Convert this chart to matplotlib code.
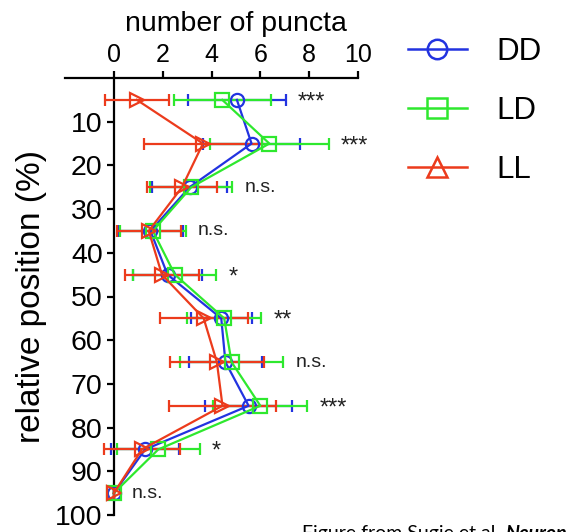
import matplotlib
matplotlib.use("Agg")
import matplotlib.pyplot as plt
from matplotlib.lines import Line2D

plt.rcParams['font.family'] = ['Liberation Sans', 'DejaVu Sans']

# relative position along the neurite (%) and puncta counts (mean, SD)
positions = [5, 15, 25, 35, 45, 55, 65, 75, 85, 95]
dd_mean = [5.04, 5.64, 3.10, 1.50, 2.20, 4.40, 4.57, 5.52, 1.28, 0.0]
dd_sd = [2.00, 1.97, 1.55, 1.32, 1.40, 1.25, 1.50, 1.78, 1.40, 0.0]
ld_mean = [4.44, 6.37, 3.17, 1.60, 2.50, 4.52, 4.82, 6.00, 1.82, 0.0]
ld_sd = [1.98, 2.44, 1.69, 1.34, 1.70, 1.52, 2.12, 1.93, 1.70, 0.0]
ll_mean = [0.94, 3.65, 2.79, 1.43, 1.97, 3.68, 4.22, 4.45, 1.15, 0.0]
ll_sd = [1.31, 2.40, 1.45, 1.32, 1.52, 1.80, 1.92, 2.18, 1.56, 0.0]
significance = ["***", "***", "n.s.", "n.s.", "*", "**", "n.s.", "***", "*", "n.s."]

x_ticks = [0, 2, 4, 6, 8, 10]
y_ticks = [10, 20, 30, 40, 50, 60, 70, 80, 90, 100]

BLUE = "#2233e0"
GREEN = "#2ee82e"
RED = "#ec3b1c"

series = [
    ("DD", dd_mean, dd_sd, BLUE, "o", "o"),
    ("LD", ld_mean, ld_sd, GREEN, "s", "s"),
    ("LL", ll_mean, ll_sd, RED, ">", "^"),
]

fig = plt.figure(figsize=(5.70, 5.32), dpi=100)
ax_h = 437 / 532
ax = fig.add_axes([65 / 570, 1 - 515 / 532, 293 / 570, ax_h])

for name, mean, sd, color, marker, _ in series:
    ax.errorbar(mean, positions, xerr=sd, color=color, lw=1.6,
                marker=marker, markersize=9.5, mfc="none", mec=color, mew=1.6,
                ecolor=color, elinewidth=1.6, capsize=4, capthick=1.6,
                clip_on=False, zorder=3)

# significance labels to the right of the widest error bar in each row
for i, label in enumerate(significance):
    hi = max(dd_mean[i] + dd_sd[i], ld_mean[i] + ld_sd[i], ll_mean[i] + ll_sd[i], 0.25)
    ax.text(hi + 0.5, positions[i], label, fontsize=14 if label == "n.s." else 17,
            ha="left", va="center" if label == "n.s." else "center_baseline",
            color="#222222")

ax.set_xlim(-2, 10)
ax.set_ylim(100, 0)
ax.set_xticks(x_ticks)
ax.set_yticks(y_ticks)

ax.xaxis.tick_top()
ax.xaxis.set_label_position("top")
ax.spines["right"].set_visible(False)
ax.spines["bottom"].set_visible(False)
ax.spines["left"].set_position(("data", 0))
for s in ("top", "left"):
    ax.spines[s].set_linewidth(1.6)

ax.tick_params(axis="both", direction="out", length=5, width=1.6, pad=3)
ax.tick_params(axis="x", labelsize=18)
ax.tick_params(axis="y", labelsize=20.5)
ax.set_xlabel("number of puncta", fontsize=20.5)
ax.xaxis.set_label_coords((236 - 65) / 293, 1 + (78 - 37) / 437)
ax.xaxis.label.set_verticalalignment("bottom")
ax.set_ylabel("relative position (%)", fontsize=24, labelpad=6)
ax.patch.set_visible(False)

handles = [Line2D([], [], color=c, lw=1.8, marker=lm, markersize=14,
                  mfc="none", mec=c, mew=1.8)
           for _, _, _, c, _, lm in series]
fig.legend(handles, [s[0] for s in series], loc="upper left",
           bbox_to_anchor=(395 / 570, 1 - 24 / 532), frameon=False,
           fontsize=22.5, handlelength=1.91, handletextpad=0.93,
           labelspacing=0.94, borderaxespad=0)

# citation line at the lower edge
base_y = -7 / 532
fs = 14
t1 = fig.text(302 / 570, base_y, "Figure from Sugie et al. ", fontsize=fs,
              family="Lato", va="baseline", ha="left")
fig.canvas.draw()
bb = t1.get_window_extent()
t2 = fig.text(bb.x1 / fig.bbox.width, base_y, "Neuron", fontsize=fs, family="Lato",
              style="italic", weight="bold", va="baseline", ha="left")
fig.canvas.draw()
bb2 = t2.get_window_extent()
fig.text(bb2.x1 / fig.bbox.width, base_y, " 2018", fontsize=fs, family="Lato",
         va="baseline", ha="left")

fig.savefig("out.png", dpi=100)
